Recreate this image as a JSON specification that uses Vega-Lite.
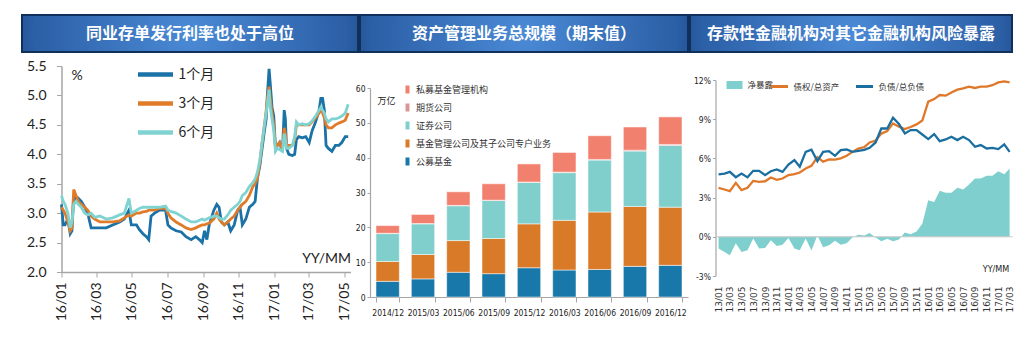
{
"$schema": "https://vega.github.io/schema/vega-lite/v6.json",
"background": "white",
"padding": {"left": 21, "top": 14, "right": 0, "bottom": 0},
"spacing": 0,
"resolve": {"scale": {"fill": "independent", "stroke": "independent"}, "legend": {"fill": "independent", "stroke": "independent"}},
"config": {
  "view": {"stroke": null},
  "axis": {"grid": false, "domainColor": "#a6a6a6", "tickColor": "#a6a6a6", "labelColor": "#222222", "titleColor": "#222222"},
  "legend": {"padding": 0}
},
"vconcat": [
 {"hconcat": [
   {"width": 336, "height": 37,
    "view": {"fill": {"gradient": "radial", "x1": 0.5, "y1": 0.5, "r1": 0, "x2": 0.5, "y2": 0.5, "r2": 0.62, "stops": [{"offset": 0, "color": "#4b8ad6"}, {"offset": 0.75, "color": "#2b5fa6"}, {"offset": 1, "color": "#173d72"}]}, "stroke": "#10305c", "strokeWidth": 2},
    "data": {"values": [{"t": "同业存单发行利率也处于高位"}]},
    "mark": {"type": "text", "color": "white", "fontSize": 16, "fontWeight": "bold", "font": "Noto Sans CJK SC"},
    "encoding": {"text": {"field": "t"}}},
   {"width": 328, "height": 37,
    "view": {"fill": {"gradient": "radial", "x1": 0.5, "y1": 0.5, "r1": 0, "x2": 0.5, "y2": 0.5, "r2": 0.62, "stops": [{"offset": 0, "color": "#4b8ad6"}, {"offset": 0.75, "color": "#2b5fa6"}, {"offset": 1, "color": "#173d72"}]}, "stroke": "#10305c", "strokeWidth": 2},
    "data": {"values": [{"t": "资产管理业务总规模（期末值）"}]},
    "mark": {"type": "text", "color": "white", "fontSize": 16, "fontWeight": "bold", "font": "Noto Sans CJK SC"},
    "encoding": {"text": {"field": "t"}}},
   {"width": 322, "height": 37,
    "view": {"fill": {"gradient": "radial", "x1": 0.5, "y1": 0.5, "r1": 0, "x2": 0.5, "y2": 0.5, "r2": 0.62, "stops": [{"offset": 0, "color": "#4b8ad6"}, {"offset": 0.75, "color": "#2b5fa6"}, {"offset": 1, "color": "#173d72"}]}, "stroke": "#10305c", "strokeWidth": 2},
    "data": {"values": [{"t": "存款性金融机构对其它金融机构风险暴露"}]},
    "mark": {"type": "text", "color": "white", "fontSize": 16, "fontWeight": "bold", "font": "Noto Sans CJK SC"},
    "encoding": {"text": {"field": "t"}}}
 ], "spacing": 0},
 {"hconcat": [
  {"width": 2.5, "height": 1, "data": {"values": []}, "mark": "point"},
  {"vconcat": [
   {"width": 1, "height": 0.5, "data": {"values": []}, "mark": "point"},
   {"width": 289, "height": 206,
      "data": {"values": [
{"d":"2016-01-01","1个月":3.15,"3个月":3.1,"6个月":3.3},
{"d":"2016-01-04","1个月":2.8,"3个月":3.05,"6个月":3.2},
{"d":"2016-01-07","1个月":2.8,"3个月":3.0,"6个月":3.15},
{"d":"2016-01-12","1个月":2.9,"3个月":2.85,"6个月":3.0},
{"d":"2016-01-16","1个月":2.65,"3个月":2.7,"6个月":2.75},
{"d":"2016-01-19","1个月":2.7,"3个月":2.75,"6个月":2.85},
{"d":"2016-01-22","1个月":3.3,"3个月":3.4,"6个月":3.15},
{"d":"2016-01-26","1个月":3.2,"3个月":3.3,"6个月":3.2},
{"d":"2016-01-30","1个月":3.25,"3个月":3.2,"6个月":3.15},
{"d":"2016-02-04","1个月":3.2,"3个月":3.15,"6个月":3.1},
{"d":"2016-02-10","1个月":3.1,"3个月":3.1,"6个月":3.0},
{"d":"2016-02-15","1个月":3.0,"3个月":3.05,"6个月":2.97},
{"d":"2016-02-21","1个月":2.75,"3个月":2.95,"6个月":3.0},
{"d":"2016-02-27","1个月":2.75,"3个月":2.9,"6个月":2.93},
{"d":"2016-03-07","1个月":2.75,"3个月":2.85,"6个月":2.95},
{"d":"2016-03-18","1个月":2.75,"3个月":2.85,"6个月":2.9},
{"d":"2016-03-29","1个月":2.8,"3个月":2.85,"6个月":2.92},
{"d":"2016-04-10","1个月":2.85,"3个月":2.87,"6个月":2.97},
{"d":"2016-04-18","1个月":2.9,"3个月":2.92,"6个月":3.0},
{"d":"2016-04-26","1个月":3.05,"3个月":2.97,"6个月":3.25},
{"d":"2016-04-30","1个月":2.8,"3个月":2.95,"6个月":3.0},
{"d":"2016-05-09","1个月":2.8,"3个月":3.0,"6个月":3.05},
{"d":"2016-05-14","1个月":2.72,"3个月":3.0,"6个月":3.08},
{"d":"2016-05-20","1个月":2.65,"3个月":3.02,"6个月":3.1},
{"d":"2016-05-26","1个月":2.6,"3个月":3.03,"6个月":3.1},
{"d":"2016-05-30","1个月":2.55,"3个月":3.05,"6个月":3.1},
{"d":"2016-06-03","1个月":2.95,"3个月":3.05,"6个月":3.1},
{"d":"2016-06-09","1个月":3.0,"3个月":3.05,"6个月":3.1},
{"d":"2016-06-17","1个月":3.05,"3个月":3.08,"6个月":3.1},
{"d":"2016-06-28","1个月":3.05,"3个月":3.08,"6个月":3.12},
{"d":"2016-07-02","1个月":2.8,"3个月":3.0,"6个月":3.05},
{"d":"2016-07-07","1个月":2.75,"3个月":2.92,"6个月":3.03},
{"d":"2016-07-16","1个月":2.7,"3个月":2.85,"6个月":3.0},
{"d":"2016-07-25","1个月":2.68,"3个月":2.8,"6个月":2.95},
{"d":"2016-08-02","1个月":2.6,"3个月":2.75,"6个月":2.9},
{"d":"2016-08-11","1个月":2.55,"3个月":2.72,"6个月":2.85},
{"d":"2016-08-19","1个月":2.6,"3个月":2.75,"6个月":2.85},
{"d":"2016-08-25","1个月":2.55,"3个月":2.78,"6个月":2.88},
{"d":"2016-08-30","1个月":2.5,"3个月":2.8,"6个月":2.9},
{"d":"2016-09-03","1个月":2.7,"3个月":2.8,"6个月":2.88},
{"d":"2016-09-07","1个月":2.55,"3个月":2.82,"6个月":2.9},
{"d":"2016-09-11","1个月":2.8,"3个月":2.83,"6个月":2.92},
{"d":"2016-09-19","1个月":3.05,"3个月":2.9,"6个月":2.95},
{"d":"2016-09-24","1个月":3.15,"3个月":3.0,"6个月":2.95},
{"d":"2016-09-28","1个月":3.1,"3个月":2.9,"6个月":2.92},
{"d":"2016-10-02","1个月":2.85,"3个月":2.85,"6个月":2.9},
{"d":"2016-10-07","1个月":2.8,"3个月":2.8,"6个月":2.9},
{"d":"2016-10-13","1个月":2.85,"3个月":2.85,"6个月":2.97},
{"d":"2016-10-18","1个月":2.7,"3个月":2.9,"6个月":3.05},
{"d":"2016-10-24","1个月":2.8,"3个月":2.95,"6个月":3.1},
{"d":"2016-10-30","1个月":3.05,"3个月":3.05,"6个月":3.15},
{"d":"2016-11-03","1个月":3.1,"3个月":3.1,"6个月":3.2},
{"d":"2016-11-07","1个月":2.8,"3个月":3.15,"6个月":3.3},
{"d":"2016-11-13","1个月":2.9,"3个月":3.2,"6个月":3.35},
{"d":"2016-11-19","1个月":3.1,"3个月":3.3,"6个月":3.45},
{"d":"2016-11-25","1个月":3.15,"3个月":3.45,"6个月":3.52},
{"d":"2016-11-29","1个月":3.2,"3个月":3.5,"6个月":3.58},
{"d":"2016-12-03","1个月":3.6,"3个月":3.6,"6个月":3.7},
{"d":"2016-12-07","1个月":3.8,"3个月":3.85,"6个月":3.9},
{"d":"2016-12-11","1个月":4.1,"3个月":4.2,"6个月":4.2},
{"d":"2016-12-15","1个月":4.4,"3个月":4.5,"6个月":4.5},
{"d":"2016-12-18","1个月":4.6,"3个月":4.75,"6个月":4.7},
{"d":"2016-12-20","1个月":5.0,"3个月":4.95,"6个月":4.85},
{"d":"2016-12-23","1个月":5.45,"3个月":5.15,"6个月":5.1},
{"d":"2016-12-25","1个月":5.2,"3个月":4.95,"6个月":4.8},
{"d":"2016-12-28","1个月":4.8,"3个月":4.7,"6个月":4.6},
{"d":"2016-12-31","1个月":4.65,"3个月":4.5,"6个月":4.4},
{"d":"2017-01-03","1个月":4.1,"3个月":4.1,"6个月":4.05},
{"d":"2017-01-06","1个月":4.15,"3个月":4.15,"6个月":4.1},
{"d":"2017-01-10","1个月":4.2,"3个月":4.2,"6个月":4.08},
{"d":"2017-01-15","1个月":4.05,"3个月":4.05,"6个月":4.05},
{"d":"2017-01-18","1个月":4.75,"3个月":4.45,"6个月":4.35},
{"d":"2017-01-20","1个月":4.6,"3个月":4.35,"6个月":4.25},
{"d":"2017-01-22","1个月":4.1,"3个月":4.15,"6个月":4.1},
{"d":"2017-01-26","1个月":4.0,"3个月":4.15,"6个月":4.1},
{"d":"2017-02-01","1个月":3.98,"3个月":4.15,"6个月":4.15},
{"d":"2017-02-05","1个月":4.0,"3个月":4.25,"6个月":4.3},
{"d":"2017-02-08","1个月":4.25,"3个月":4.5,"6个月":4.55},
{"d":"2017-02-12","1个月":4.3,"3个月":4.5,"6个月":4.5},
{"d":"2017-02-18","1个月":4.28,"3个月":4.5,"6个月":4.52},
{"d":"2017-02-24","1个月":4.3,"3个月":4.5,"6个月":4.5},
{"d":"2017-03-02","1个月":4.2,"3个月":4.5,"6个月":4.52},
{"d":"2017-03-07","1个月":4.4,"3个月":4.55,"6个月":4.57},
{"d":"2017-03-13","1个月":4.55,"3个月":4.62,"6个月":4.65},
{"d":"2017-03-19","1个月":4.75,"3个月":4.7,"6个月":4.75},
{"d":"2017-03-22","1个月":4.95,"3个月":4.75,"6个月":4.8},
{"d":"2017-03-25","1个月":4.95,"3个月":4.7,"6个月":4.75},
{"d":"2017-03-28","1个月":4.75,"3个月":4.62,"6个月":4.7},
{"d":"2017-03-31","1个月":4.15,"3个月":4.5,"6个月":4.6},
{"d":"2017-04-04","1个月":4.1,"3个月":4.45,"6个月":4.55},
{"d":"2017-04-10","1个月":4.05,"3个月":4.45,"6个月":4.6},
{"d":"2017-04-16","1个月":4.15,"3个月":4.5,"6个月":4.6},
{"d":"2017-04-22","1个月":4.15,"3个月":4.53,"6个月":4.62},
{"d":"2017-04-27","1个月":4.2,"3个月":4.55,"6个月":4.65},
{"d":"2017-05-03","1个月":4.3,"3个月":4.58,"6个月":4.7},
{"d":"2017-05-08","1个月":4.3,"3个月":4.7,"6个月":4.85}
      ]},
      "transform": [{"fold": ["1个月", "3个月", "6个月"], "as": ["s", "v"]}],
      "mark": {"type": "line", "strokeWidth": 2.8},
      "encoding": {
        "x": {"field": "d", "type": "temporal", "scale": {"domain": ["2016-01-01", "2017-05-12"]},
              "axis": {"tickCount": {"interval": "month", "step": 2}, "format": "%y/%m", "labelAngle": -90, "labelFontSize": 14, "labelFont": "Lato", "labelPadding": 5, "tickSize": 5, "domainWidth": 1.5, "labelFlush": false, "labelOverlap": false,
                       "title": "YY/MM", "titleX": 289, "titleY": -10, "titleAlign": "right", "titleBaseline": "alphabetic", "titleFontSize": 14, "titleFontWeight": "normal", "titleFont": "Lato"}},
        "y": {"field": "v", "type": "quantitative", "scale": {"domain": [2, 5.5], "nice": false, "zero": false},
              "axis": {"values": [2, 2.5, 3, 3.5, 4, 4.5, 5, 5.5], "format": ".1f", "labelFontSize": 14, "labelFont": "Lato", "labelPadding": 10.5, "tickSize": 5, "domainWidth": 1.5, "labelOverlap": false,
                       "title": "%", "titleAngle": 0, "titleX": 15, "titleY": 13, "titleAlign": "center", "titleBaseline": "alphabetic", "titleFontSize": 14, "titleFontWeight": "normal", "titleFont": "Lato"}},
        "stroke": {"field": "s", "type": "nominal", "scale": {"domain": ["1个月", "3个月", "6个月"], "range": ["#1a72a6", "#e07b2a", "#7fd3d1"]},
                   "legend": {"title": null, "orient": "none", "legendX": 74, "legendY": -11.5, "symbolType": "stroke", "symbolSize": 1225, "symbolStrokeWidth": 4.5, "labelFontSize": 14, "labelFont": "Noto Sans CJK SC", "labelColor": "#222222", "rowPadding": -6, "labelOffset": 3}}
      }}
  ], "spacing": 0, "resolve": {"scale": {"fill": "independent", "stroke": "independent"}, "legend": {"fill": "independent", "stroke": "independent"}}},
  {"vconcat": [
   {"width": 1, "height": 30.75, "data": {"values": []}, "mark": "point"},
   {"width": 318, "height": 209,
      "data": {"values": [
{"p":"2014/12","c":"公募基金","k":1,"v":4.5},
{"p":"2015/03","c":"公募基金","k":1,"v":5.2},
{"p":"2015/06","c":"公募基金","k":1,"v":7.1},
{"p":"2015/09","c":"公募基金","k":1,"v":6.7},
{"p":"2015/12","c":"公募基金","k":1,"v":8.4},
{"p":"2016/03","c":"公募基金","k":1,"v":7.75},
{"p":"2016/06","c":"公募基金","k":1,"v":7.9},
{"p":"2016/09","c":"公募基金","k":1,"v":8.8},
{"p":"2016/12","c":"公募基金","k":1,"v":9.1},
{"p":"2014/12","c":"基金管理公司及其子公司专户业务","k":2,"v":5.7},
{"p":"2015/03","c":"基金管理公司及其子公司专户业务","k":2,"v":7.0},
{"p":"2015/06","c":"基金管理公司及其子公司专户业务","k":2,"v":9.1},
{"p":"2015/09","c":"基金管理公司及其子公司专户业务","k":2,"v":10.1},
{"p":"2015/12","c":"基金管理公司及其子公司专户业务","k":2,"v":12.6},
{"p":"2016/03","c":"基金管理公司及其子公司专户业务","k":2,"v":14.25},
{"p":"2016/06","c":"基金管理公司及其子公司专户业务","k":2,"v":16.5},
{"p":"2016/09","c":"基金管理公司及其子公司专户业务","k":2,"v":17.2},
{"p":"2016/12","c":"基金管理公司及其子公司专户业务","k":2,"v":16.7},
{"p":"2014/12","c":"证券公司","k":3,"v":8.0},
{"p":"2015/03","c":"证券公司","k":3,"v":8.8},
{"p":"2015/06","c":"证券公司","k":3,"v":10.0},
{"p":"2015/09","c":"证券公司","k":3,"v":10.9},
{"p":"2015/12","c":"证券公司","k":3,"v":11.9},
{"p":"2016/03","c":"证券公司","k":3,"v":13.7},
{"p":"2016/06","c":"证券公司","k":3,"v":14.9},
{"p":"2016/09","c":"证券公司","k":3,"v":15.9},
{"p":"2016/12","c":"证券公司","k":3,"v":17.7},
{"p":"2014/12","c":"期货公司","k":4,"v":0.1},
{"p":"2015/03","c":"期货公司","k":4,"v":0.1},
{"p":"2015/06","c":"期货公司","k":4,"v":0.1},
{"p":"2015/09","c":"期货公司","k":4,"v":0.1},
{"p":"2015/12","c":"期货公司","k":4,"v":0.1},
{"p":"2016/03","c":"期货公司","k":4,"v":0.15},
{"p":"2016/06","c":"期货公司","k":4,"v":0.2},
{"p":"2016/09","c":"期货公司","k":4,"v":0.25},
{"p":"2016/12","c":"期货公司","k":4,"v":0.3},
{"p":"2014/12","c":"私募基金管理机构","k":5,"v":2.2},
{"p":"2015/03","c":"私募基金管理机构","k":5,"v":2.6},
{"p":"2015/06","c":"私募基金管理机构","k":5,"v":3.9},
{"p":"2015/09","c":"私募基金管理机构","k":5,"v":4.7},
{"p":"2015/12","c":"私募基金管理机构","k":5,"v":5.2},
{"p":"2016/03","c":"私募基金管理机构","k":5,"v":5.65},
{"p":"2016/06","c":"私募基金管理机构","k":5,"v":6.8},
{"p":"2016/09","c":"私募基金管理机构","k":5,"v":6.65},
{"p":"2016/12","c":"私募基金管理机构","k":5,"v":7.9}
      ]},
      "mark": {"type": "bar", "stroke": "white", "strokeWidth": 0.5},
      "encoding": {
        "x": {"field": "p", "type": "ordinal", "scale": {"paddingInner": 0.34, "paddingOuter": 0.17},
              "axis": {"title": null, "labelAngle": 0, "labelFont": "DejaVu Sans Condensed", "labelFontSize": 8.5, "tickBand": "extent", "tickSize": 5, "labelPadding": 6, "domainWidth": 1.2}},
        "y": {"field": "v", "type": "quantitative", "stack": "zero", "scale": {"domain": [0, 60], "nice": false},
              "axis": {"values": [0, 10, 20, 30, 40, 50, 60], "labelFont": "DejaVu Sans Condensed", "labelFontSize": 8.5, "tickSize": 3, "labelPadding": 2, "domainWidth": 1.2, "labelOverlap": false,
                       "title": "万亿", "titleAngle": 0, "titleX": 7, "titleY": 15, "titleAlign": "left", "titleBaseline": "alphabetic", "titleFontSize": 9, "titleFontWeight": "normal", "titleFont": "Noto Sans CJK SC"}},
        "fill": {"field": "c", "type": "nominal",
                 "scale": {"domain": ["私募基金管理机构", "期货公司", "证券公司", "基金管理公司及其子公司专户业务", "公募基金"], "range": ["#f2806f", "#d99694", "#80cfcd", "#d97a28", "#1778a9"]},
                 "legend": {"title": null, "orient": "none", "legendX": 33, "legendY": -3, "symbolType": "M-0.5,-1H0.5V1H-0.5Z", "symbolSize": 64, "symbolStrokeWidth": 0, "labelFontSize": 9, "labelFont": "Noto Sans CJK SC", "labelColor": "#333333", "rowPadding": 8, "labelOffset": 4}},
        "order": {"field": "k", "type": "quantitative"}
      }}
  ], "spacing": 0, "resolve": {"scale": {"fill": "independent", "stroke": "independent"}, "legend": {"fill": "independent", "stroke": "independent"}}},
  {"vconcat": [
   {"width": 1, "height": 22.75, "data": {"values": []}, "mark": "point"},
   {"width": 297, "height": 196,
      "data": {"values": [
{"d":"2013-01-01","净暴露":-0.9,"债权/总资产":3.75,"负债/总负债":4.77},
{"d":"2013-02-01","净暴露":-1.16,"债权/总资产":3.62,"负债/总负债":4.84},
{"d":"2013-03-01","净暴露":-1.42,"债权/总资产":3.5,"负债/总负债":4.97},
{"d":"2013-04-01","净暴露":-0.5,"债权/总资产":4.13,"负债/总负债":4.56},
{"d":"2013-05-01","净暴露":-1.16,"债权/总资产":3.57,"负债/总负债":4.84},
{"d":"2013-06-01","净暴露":-1.03,"债权/总资产":3.75,"负债/总负债":4.55},
{"d":"2013-07-01","净暴露":-0.13,"债权/总资产":4.28,"负债/总负债":5.05},
{"d":"2013-08-01","净暴露":-0.9,"债权/总资产":4.2,"负债/总负债":5.05},
{"d":"2013-09-01","净暴露":-0.85,"债权/总资产":4.25,"负债/总负债":4.72},
{"d":"2013-10-01","净暴露":-0.26,"债权/总资产":4.54,"负债/总负债":5.02},
{"d":"2013-11-01","净暴露":-0.7,"债权/总资产":4.36,"负债/总负债":5.15},
{"d":"2013-12-01","净暴露":-0.6,"债权/总资产":4.46,"负债/总负债":4.97},
{"d":"2014-01-01","净暴露":-0.1,"债权/总资产":4.72,"负债/总负债":5.53},
{"d":"2014-02-01","净暴露":-0.9,"债权/总资产":4.79,"负债/总负债":5.87},
{"d":"2014-03-01","净暴露":-1.03,"债权/总资产":4.92,"负债/总负债":5.36},
{"d":"2014-04-01","净暴露":-0.13,"债权/总资产":5.23,"负债/总负债":6.5},
{"d":"2014-05-01","净暴露":-1.05,"债权/总资产":5.43,"负债/总负债":6.66},
{"d":"2014-06-01","净暴露":0.1,"债权/总资产":6.1,"负债/总负债":5.79},
{"d":"2014-07-01","净暴露":-0.8,"债权/总资产":5.75,"负债/总负债":6.5},
{"d":"2014-08-01","净暴露":-0.65,"债权/总资产":5.92,"负债/总负债":6.56},
{"d":"2014-09-01","净暴露":-0.3,"债权/总资产":5.9,"负债/总负债":6.2},
{"d":"2014-10-01","净暴露":-0.6,"债权/总资产":6.0,"负债/总负债":6.63},
{"d":"2014-11-01","净暴露":-0.5,"债权/总资产":6.2,"负债/总负债":6.68},
{"d":"2014-12-01","净暴露":-0.05,"债权/总资产":6.5,"负债/总负债":6.5},
{"d":"2015-01-01","净暴露":0.15,"债权/总资产":6.76,"负债/总负债":6.58},
{"d":"2015-02-01","净暴露":0.1,"债权/总资产":6.86,"负债/总负债":6.66},
{"d":"2015-03-01","净暴露":0.3,"债权/总资产":7.22,"负债/总负债":6.81},
{"d":"2015-04-01","净暴露":-0.05,"债权/总资产":7.37,"负债/总负债":7.22},
{"d":"2015-05-01","净暴露":-0.35,"债权/总资产":7.9,"负债/总负债":8.29},
{"d":"2015-06-01","净暴露":-0.15,"债权/总资产":8.09,"负债/总负债":8.29},
{"d":"2015-07-01","净暴露":-0.35,"债权/总资产":8.68,"负债/总负债":9.11},
{"d":"2015-08-01","净暴露":-0.2,"债权/总资产":8.42,"负债/总负债":8.63},
{"d":"2015-09-01","净暴露":0.33,"债权/总资产":8.24,"负债/总负债":7.91},
{"d":"2015-10-01","净暴露":0.2,"债权/总资产":8.4,"负债/总负债":8.17},
{"d":"2015-11-01","净暴露":0.4,"债权/总资产":8.6,"负债/总负债":8.17},
{"d":"2015-12-01","净暴露":1.0,"债权/总资产":8.9,"负债/总负债":7.83},
{"d":"2016-01-01","净暴露":2.8,"债权/总资产":10.34,"负债/总负债":7.48},
{"d":"2016-02-01","净暴露":2.67,"债权/总资产":10.54,"负债/总负债":7.86},
{"d":"2016-03-01","净暴露":3.52,"债权/总资产":10.85,"负债/总负债":7.32},
{"d":"2016-04-01","净暴露":3.37,"债权/总资产":10.8,"负债/总负债":7.45},
{"d":"2016-05-01","净暴露":3.37,"债权/总资产":11.05,"负债/总负债":7.66},
{"d":"2016-06-01","净暴露":3.75,"债权/总资产":11.26,"负债/总负债":7.4},
{"d":"2016-07-01","净暴露":3.62,"债权/总资产":11.36,"负债/总负债":7.66},
{"d":"2016-08-01","净暴露":4.0,"债权/总资产":11.49,"负债/总负债":7.4},
{"d":"2016-09-01","净暴露":4.46,"债权/总资产":11.39,"负债/总负债":6.89},
{"d":"2016-10-01","净暴露":4.46,"债权/总资产":11.49,"负债/总负债":7.02},
{"d":"2016-11-01","净暴露":4.67,"债权/总资产":11.49,"负债/总负债":6.76},
{"d":"2016-12-01","净暴露":4.67,"债权/总资产":11.6,"负债/总负债":6.81},
{"d":"2017-01-01","净暴露":5.02,"债权/总资产":11.82,"负债/总负债":6.71},
{"d":"2017-02-01","净暴露":4.79,"债权/总资产":11.9,"负债/总负债":7.07},
{"d":"2017-03-01","净暴露":5.23,"债权/总资产":11.82,"负债/总负债":6.5}
      ]},
      "layer": [
        {"mark": {"type": "area", "opacity": 1},
         "encoding": {
           "x": {"field": "d", "type": "temporal", "scale": {"domain": ["2012-12-16", "2017-03-16"]},
                 "axis": {"tickCount": {"interval": "month", "step": 2}, "format": "%y/%m", "labelAngle": -90, "labelFontSize": 9, "labelFont": "DejaVu Sans", "labelColor": "#333333", "labelPadding": 10, "domain": false, "ticks": false, "labelFlush": false, "labelOverlap": false,
                          "title": "YY/MM", "titleX": 280, "titleY": -5, "titleAlign": "center", "titleBaseline": "alphabetic", "titleFontSize": 9, "titleFontWeight": "normal", "titleFont": "DejaVu Sans Condensed"}},
           "y": {"field": "净暴露", "type": "quantitative", "stack": null, "scale": {"domain": [-3, 12], "nice": false, "zero": false},
                 "axis": {"values": [-3, 0, 3, 6, 9, 12], "labelExpr": "datum.value + '%'", "labelFont": "DejaVu Sans Condensed", "labelFontSize": 8.5, "tickSize": 3, "labelPadding": 2, "domainWidth": 1.2, "minExtent": 27, "labelOverlap": false, "labelFlush": false, "labelBound": false, "title": null}},
           "fill": {"datum": "净暴露", "scale": {"domain": ["净暴露"], "range": ["#80cfcf"]},
                    "legend": {"title": null, "orient": "none", "legendX": 11, "legendY": -3, "symbolType": "M-1,-0.5H1V0.5H-1Z", "symbolSize": 256, "symbolStrokeWidth": 0, "labelFontSize": 8.5, "labelFont": "Noto Sans CJK SC", "labelColor": "#333333", "labelOffset": 5}}
         }},
        {"data": {"values": [{"z": 0}]},
         "mark": {"type": "rule", "color": "#c8c8c8", "strokeWidth": 1},
         "encoding": {"y": {"field": "z", "type": "quantitative",
                 "axis": {"values": [-3, 0, 3, 6, 9, 12], "labelExpr": "datum.value + '%'", "labelFont": "DejaVu Sans Condensed", "labelFontSize": 8.5, "tickSize": 3, "labelPadding": 2, "domainWidth": 1.2, "minExtent": 27, "labelOverlap": false, "labelFlush": false, "labelBound": false, "title": null}}}},
        {"transform": [{"fold": ["债权/总资产", "负债/总负债"], "as": ["s", "v"]}],
         "mark": {"type": "line", "strokeWidth": 2.3},
         "encoding": {
           "x": {"field": "d", "type": "temporal"},
           "y": {"field": "v", "type": "quantitative",
                 "axis": {"values": [-3, 0, 3, 6, 9, 12], "labelExpr": "datum.value + '%'", "labelFont": "DejaVu Sans Condensed", "labelFontSize": 8.5, "tickSize": 3, "labelPadding": 2, "domainWidth": 1.2, "minExtent": 27, "labelOverlap": false, "labelFlush": false, "labelBound": false, "title": null}},
           "stroke": {"field": "s", "type": "nominal", "scale": {"domain": ["债权/总资产", "负债/总负债"], "range": ["#e0782a", "#1a6fa0"]},
                      "legend": {"title": null, "orient": "none", "direction": "horizontal", "legendX": 54, "legendY": -3.5, "symbolType": "stroke", "symbolSize": 289, "symbolStrokeWidth": 3, "labelFontSize": 8.5, "labelFont": "Noto Sans CJK SC", "labelColor": "#333333", "labelOffset": 4, "columnPadding": 10}}
         }}
      ]}
  ], "spacing": 0, "resolve": {"scale": {"fill": "independent", "stroke": "independent"}, "legend": {"fill": "independent", "stroke": "independent"}}}
 ], "spacing": 0.5, "resolve": {"scale": {"fill": "independent", "stroke": "independent"}, "legend": {"fill": "independent", "stroke": "independent"}}}
]
}
